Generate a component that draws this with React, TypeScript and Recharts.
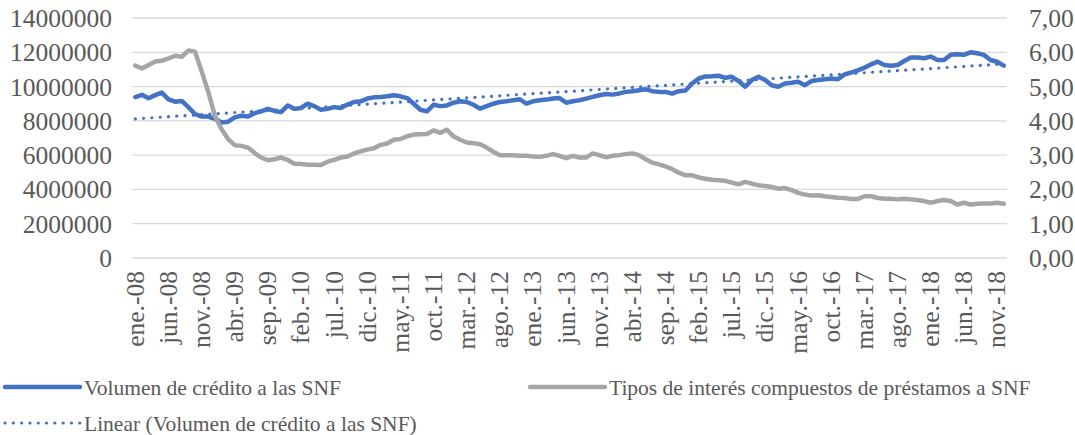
import { LineChart, Line, XAxis, YAxis, CartesianGrid, ReferenceLine } from "recharts";

const MONTHS = ["ene", "feb", "mar", "abr", "may", "jun", "jul", "ago", "sep", "oct", "nov", "dic"];
const YEARS = ["08", "09", "10", "11", "12", "13", "14", "15", "16", "17", "18"];
const meses = YEARS.flatMap((y) => MONTHS.map((m) => `${m}.-${y}`));

// Volumen de crédito a las SNF, in millions (left axis)
const volumenM = [
  9.39, 9.52, 9.32, 9.5, 9.65, 9.25, 9.12, 9.16, 8.8, 8.4, 8.25, 8.25,
  8.12, 7.9, 7.95, 8.2, 8.3, 8.25, 8.45, 8.55, 8.7, 8.58, 8.51, 8.9,
  8.7, 8.75, 9.0, 8.86, 8.65, 8.7, 8.8, 8.75, 8.95, 9.1, 9.14, 9.3,
  9.37, 9.39, 9.43, 9.49, 9.43, 9.33, 9.0, 8.65, 8.55, 8.94, 8.86, 8.9,
  9.06, 9.14, 9.1, 8.94, 8.71, 8.86, 9.0, 9.1, 9.14, 9.2, 9.26, 9.0,
  9.14, 9.2, 9.24, 9.3, 9.33, 9.06, 9.14, 9.2, 9.3, 9.4, 9.49, 9.57,
  9.53, 9.6, 9.69, 9.73, 9.79, 9.84, 9.73, 9.69, 9.69, 9.59, 9.73, 9.77,
  10.18, 10.47, 10.59, 10.6, 10.63, 10.51, 10.57, 10.32, 9.99, 10.38, 10.57, 10.38,
  10.08, 9.99, 10.18, 10.22, 10.28, 10.08, 10.32, 10.38, 10.43, 10.47, 10.43, 10.71,
  10.82, 10.95, 11.1, 11.3, 11.45, 11.26, 11.22, 11.26, 11.49, 11.69, 11.69, 11.65,
  11.75, 11.55, 11.55, 11.85, 11.89, 11.85, 12.0, 11.94, 11.85, 11.55, 11.45, 11.22,
];

// Tipos de interés compuestos de préstamos a SNF (right axis)
const tipos = [
  5.61, 5.53, 5.63, 5.73, 5.75, 5.82, 5.9, 5.87, 6.05, 6.02, 5.45, 4.85,
  4.15, 3.76, 3.47, 3.29, 3.27, 3.22, 3.06, 2.93, 2.85, 2.88, 2.93, 2.86,
  2.75, 2.74, 2.72, 2.72, 2.71, 2.81, 2.86, 2.93, 2.96, 3.05, 3.11, 3.16,
  3.2, 3.3, 3.34, 3.45, 3.47, 3.55, 3.6, 3.61, 3.62, 3.72, 3.65, 3.74,
  3.55, 3.45, 3.37, 3.35, 3.32, 3.22, 3.1, 3.0, 3.0, 3.0, 2.98, 2.98,
  2.96, 2.95, 2.98, 3.03, 2.98, 2.91, 2.98, 2.93, 2.93, 3.05, 3.0, 2.94,
  2.98, 3.0, 3.03, 3.05, 3.0, 2.88, 2.78, 2.73, 2.67, 2.59, 2.49, 2.41,
  2.41, 2.35, 2.31, 2.28, 2.27, 2.25, 2.2, 2.15, 2.22, 2.17, 2.12, 2.1,
  2.07, 2.02, 2.04, 1.98, 1.9, 1.85, 1.82, 1.83, 1.8, 1.78, 1.76, 1.75,
  1.72, 1.72, 1.8, 1.8, 1.75, 1.73, 1.73, 1.71, 1.73, 1.71, 1.69, 1.66,
  1.61, 1.66, 1.69, 1.66, 1.56, 1.61, 1.56, 1.58, 1.59, 1.59, 1.61, 1.58,
];

// Linear trend endpoints (millions)
const trendM = [8.12, 11.32];

const leftTicks = [0, 2000000, 4000000, 6000000, 8000000, 10000000, 12000000, 14000000];
const rightTicks = [0, 1, 2, 3, 4, 5, 6, 7];

const SERIES_VOL = "Volumen de crédito a las SNF";
const SERIES_TIPOS = "Tipos de interés compuestos de préstamos a SNF";
const SERIES_TREND = "Linear (Volumen de crédito a las SNF)";

const BLUE = "#4472C4";
const GRAY = "#A5A5A5";
const TEXT = "#595959";
const FONT = '"Liberation Serif", "Times New Roman", serif';
const AXIS_FS = 25.5;

const data = meses.map((mes, i) => ({
  mes,
  volumen: volumenM[i] * 1000000,
  tipos: tipos[i],
}));

function XTick(props: any) {
  const { x, y, payload } = props;
  return (
    <text
      x={x}
      y={y}
      transform={`rotate(-90 ${x} ${y})`}
      textAnchor="end"
      dy="0.33em"
      fill={TEXT}
      fontSize={AXIS_FS}
      fontFamily={FONT}
      style={{ fontFamily: FONT }}
    >
      {payload.value}
    </text>
  );
}

const tickStyle = { fill: TEXT, fontSize: AXIS_FS, fontFamily: FONT };

export default function App() {
  return (
    <div
      style={{ position: "absolute", left: 0, top: 0, width: 1075, height: 435, fontFamily: FONT }}
    >
      <LineChart
        width={1075}
        height={435}
        data={data}
        margin={{ top: 18, right: 0, bottom: 0, left: 0 }}
      >
        <CartesianGrid yAxisId="left" vertical={false} stroke="#D9D9D9" strokeWidth={1.3} />
        <XAxis
          dataKey="mes"
          interval={4}
          height={177}
          padding={{ left: 3.3, right: 3.3 }}
          tick={<XTick />}
          tickSize={0}
          tickMargin={13}
          axisLine={false}
          tickLine={false}
        />
        <YAxis
          yAxisId="left"
          width={132}
          domain={[0, 14000000]}
          ticks={leftTicks}
          interval={0}
          tickFormatter={(v: number) => String(v)}
          tick={tickStyle}
          tickSize={0}
          tickMargin={20}
          axisLine={false}
          tickLine={false}
        />
        <YAxis
          yAxisId="right"
          orientation="right"
          width={68}
          domain={[0, 7]}
          ticks={rightTicks}
          interval={0}
          tickFormatter={(v: number) => v.toFixed(2).replace(".", ",")}
          tick={{ ...tickStyle, textAnchor: "start" }}
          tickSize={0}
          tickMargin={22}
          axisLine={false}
          tickLine={false}
        />
        <Line
          yAxisId="left"
          dataKey="volumen"
          name={SERIES_VOL}
          stroke={BLUE}
          strokeWidth={4.5}
          strokeLinejoin="round"
          strokeLinecap="round"
          dot={false}
          isAnimationActive={false}
        />
        <ReferenceLine
          yAxisId="left"
          segment={[
            { x: meses[0], y: trendM[0] * 1000000 },
            { x: meses[meses.length - 1], y: trendM[1] * 1000000 },
          ]}
          stroke={BLUE}
          strokeWidth={3.2}
          strokeDasharray="0.1 8.2"
          strokeLinecap="round"
        />
        <Line
          yAxisId="right"
          dataKey="tipos"
          name={SERIES_TIPOS}
          stroke={GRAY}
          strokeWidth={4.5}
          strokeLinejoin="round"
          strokeLinecap="round"
          dot={false}
          isAnimationActive={false}
        />
      </LineChart>
      <svg
        width={1075}
        height={435}
        style={{ position: "absolute", left: 0, top: 0, pointerEvents: "none" }}
        fontFamily={FONT}
        fontSize={21.5}
        fill={TEXT}
      >
        <line x1={5} y1={387} x2={80} y2={387} stroke={BLUE} strokeWidth={4.5} strokeLinecap="round" />
        <text x={84} y={387} dy="0.35em">{SERIES_VOL}</text>
        <line x1={530} y1={387} x2={605} y2={387} stroke={GRAY} strokeWidth={4.5} strokeLinecap="round" />
        <text x={609} y={387} dy="0.35em">{SERIES_TIPOS}</text>
        <line
          x1={5}
          y1={423}
          x2={80}
          y2={423}
          stroke={BLUE}
          strokeWidth={3.2}
          strokeDasharray="0.1 8.2"
          strokeLinecap="round"
        />
        <text x={84} y={423} dy="0.35em">{SERIES_TREND}</text>
      </svg>
    </div>
  );
}
